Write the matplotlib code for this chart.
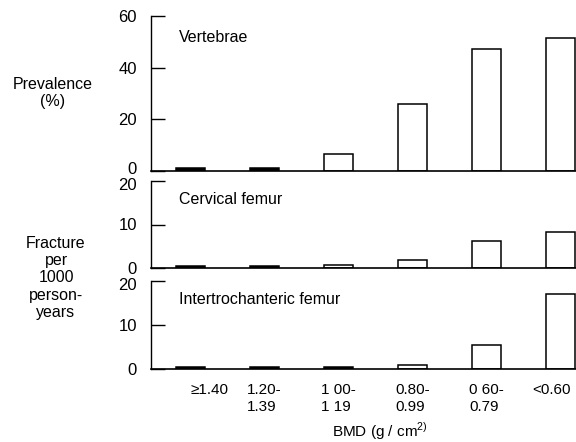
import matplotlib
matplotlib.use("Agg")
import matplotlib.pyplot as plt
from matplotlib.transforms import ScaledTranslation

plt.rcParams['font.family'] = ['Liberation Sans', 'DejaVu Sans']

categories = ["\u22651.40", "1.20-\n1.39", "1 00-\n1 19", "0.80-\n0.99", "0 60-\n0.79", "<0.60"]
vertebrae = [1.0, 1.0, 6.7, 25.8, 47.2, 51.4]
cervical = [0.5, 0.5, 0.7, 1.9, 6.1, 8.3]
intertroch = [0.5, 0.5, 0.5, 0.9, 5.4, 17.0]
filled_vert = [True, True, False, False, False, False]
filled_cerv = [True, True, False, False, False, False]
filled_inter = [True, True, True, False, False, False]

panels = [
    ("Vertebrae", vertebrae, filled_vert, 60, [0, 20, 40, 60]),
    ("Cervical femur", cervical, filled_cerv, 20, [0, 10, 20]),
    ("Intertrochanteric femur", intertroch, filled_inter, 20, [0, 10, 20]),
]

W, H = 576, 442
fig = plt.figure(figsize=(W / 100, H / 100), dpi=100)
boxes = [(16, 171), (181, 268), (281, 369)]
title_y = [37, 200, 300]
x = list(range(len(categories)))
AX_L = 151

for i, ((title, vals, filled, ymax, yt), (top, bot)) in enumerate(zip(panels, boxes)):
    ax = fig.add_axes([AX_L / W, 1 - bot / H, (W - AX_L) / W, (bot - top) / H])
    colors = ['black' if f else 'white' for f in filled]
    ax.bar(x, vals, width=0.39, color=colors, edgecolor='black', linewidth=1.1)
    ax.set_xlim(-0.534, 5.209)
    ax.set_ylim(0, ymax)
    ax.set_yticks(yt)
    ax.tick_params(axis='y', direction='in', length=10, width=1, labelsize=12, pad=10)
    ax.tick_params(axis='x', length=0)
    for s in ['top', 'right']:
        ax.spines[s].set_visible(False)
    ax.spines['left'].set_linewidth(1)
    ax.spines['bottom'].set_linewidth(1.2)
    ax.text((179 - AX_L) / (W - AX_L), (bot - title_y[i]) / (bot - top), title,
            transform=ax.transAxes, fontsize=11.5, va='center', ha='left')
    ylabs = ax.get_yticklabels()
    if i == 0:
        ylabs[0].set_transform(ylabs[0].get_transform() + ScaledTranslation(0, 3 / 100, fig.dpi_scale_trans))
    else:
        ylabs[-1].set_transform(ylabs[-1].get_transform() + ScaledTranslation(0, -2.5 / 100, fig.dpi_scale_trans))
    ax.set_xticks(x)
    if i < 2:
        ax.set_xticklabels([])
    else:
        ax.set_xticklabels(categories, fontsize=11, multialignment='left', linespacing=1.25)
        ax.tick_params(axis='x', pad=10)
        labs = ax.get_xticklabels()
        labs[0].set_transform(labs[0].get_transform() + ScaledTranslation(19 / 100, 0, fig.dpi_scale_trans))
        labs[-1].set_transform(labs[-1].get_transform() + ScaledTranslation(-9 / 100, 0, fig.dpi_scale_trans))

fig.text(53 / W, 1 - 93 / H, "Prevalence\n(%)", ha='center', va='center', fontsize=11.5, linespacing=1.2)
fig.text(56 / W, 1 - 278 / H, "Fracture\nper\n1000\nperson-\nyears", ha='center', va='center',
         fontsize=11.5, linespacing=1.2)
fig.text(380 / W, 1 - 431 / H, "BMD (g / cm$^{\\mathregular{2)}}$", ha='center', va='center', fontsize=11)

fig.savefig("out.png", dpi=100)
